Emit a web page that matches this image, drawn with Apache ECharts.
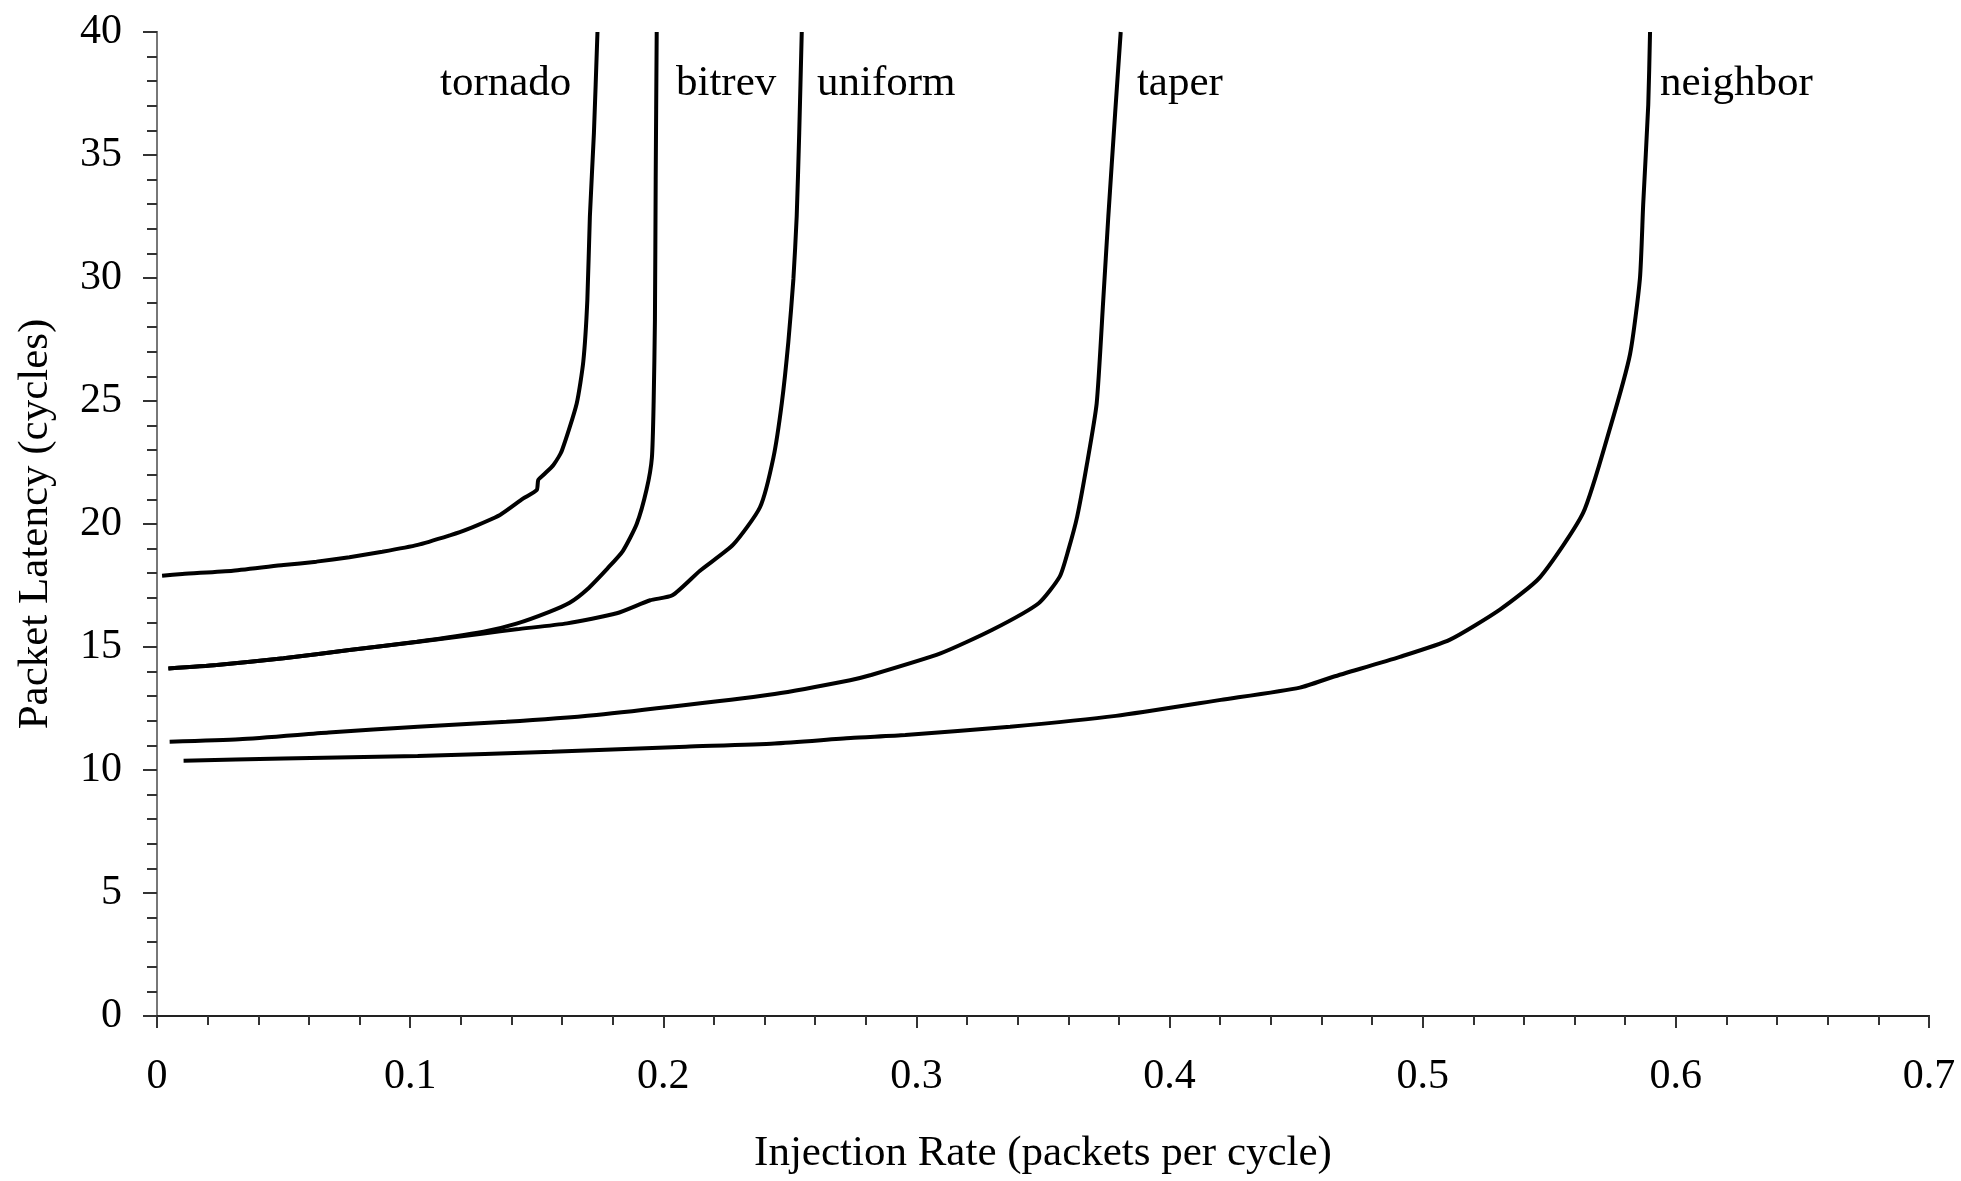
<!DOCTYPE html>
<html>
<head>
<meta charset="utf-8">
<title>Packet Latency vs Injection Rate</title>
<script src="https://cdn.jsdelivr.net/npm/echarts@6/dist/echarts.min.js"></script>
<style>
  html,
  body {
    margin: 0;
    padding: 0;
    background: #fff;
  }
  #main {
    width: 1961px;
    height: 1181px;
  }
</style>
</head>
<body>
<div id="main"></div>
<script>
// 曲线数据 [injection rate, latency]
var tornado = [
  [0.002, 17.9], [0.010, 17.97], [0.030, 18.1], [0.050, 18.33], [0.063, 18.47],
  [0.076, 18.65], [0.089, 18.87], [0.103, 19.15], [0.116, 19.55], [0.122, 19.76],
  [0.1355, 20.37], [0.1447, 21.04], [0.150, 21.38], [0.1506, 21.79], [0.1526, 21.99],
  [0.1566, 22.4], [0.160, 23.0], [0.1658, 24.9], [0.1684, 26.6], [0.170, 29.1],
  [0.171, 32.5], [0.1726, 35.9], [0.174, 40]
];
var bitrev = [
  [0.0045, 14.13], [0.0236, 14.27], [0.050, 14.54], [0.076, 14.88], [0.1026, 15.21],
  [0.129, 15.62], [0.142, 15.95], [0.155, 16.43], [0.163, 16.8], [0.170, 17.35],
  [0.178, 18.2], [0.184, 18.9], [0.1895, 20.0], [0.1934, 21.4], [0.1955, 22.7],
  [0.1962, 25], [0.1967, 28.3], [0.197, 34], [0.1974, 40]
];
var uniform = [
  [0.0045, 14.13], [0.0236, 14.27], [0.050, 14.54], [0.076, 14.88], [0.1026, 15.2],
  [0.129, 15.55], [0.142, 15.72], [0.162, 15.96], [0.1816, 16.37], [0.1948, 16.9],
  [0.2036, 17.1], [0.2145, 18.1], [0.2277, 19.17], [0.2382, 20.68], [0.2435, 22.7],
  [0.2468, 24.9], [0.2494, 27.4], [0.2514, 29.96], [0.2527, 32.5], [0.2537, 35.9],
  [0.2547, 40]
];
var taper = [
  [0.005, 11.15], [0.0325, 11.25], [0.0678, 11.52], [0.103, 11.76], [0.138, 11.96],
  [0.1736, 12.24], [0.2089, 12.64], [0.244, 13.09], [0.2738, 13.65], [0.2817, 13.85],
  [0.3095, 14.74], [0.330, 15.7], [0.3483, 16.78], [0.3566, 17.86], [0.360, 18.94],
  [0.3635, 20.3], [0.3673, 22.4], [0.3712, 24.9], [0.3738, 29.1], [0.3758, 32.5],
  [0.3785, 36.7], [0.3807, 40]
];
var neighbor = [
  [0.0105, 10.38], [0.050, 10.47], [0.103, 10.57], [0.156, 10.74], [0.2089, 10.95],
  [0.244, 11.08], [0.274, 11.3], [0.2956, 11.42], [0.337, 11.76], [0.3788, 12.2],
  [0.4203, 12.85], [0.4515, 13.35], [0.4647, 13.79], [0.491, 14.6], [0.5108, 15.3],
  [0.5305, 16.52], [0.5463, 17.83], [0.5634, 20.46], [0.574, 23.9], [0.5819, 26.9],
  [0.5858, 29.97], [0.5871, 33.0], [0.5891, 37.05], [0.5898, 40]
];

var seriesNames = ["tornado", "bitrev", "uniform", "taper", "neighbor"];
// 曲线名称标注的位置 (数据坐标, 文字左端)
var labelAnchors = [
  [0.1118, 37.9], [0.205, 37.9], [0.2607, 37.9], [0.3871, 37.9], [0.5937, 37.9]
];

var xTicks = ["0", "0.1", "0.2", "0.3", "0.4", "0.5", "0.6", "0.7"];
var yTicks = ["0", "5", "10", "15", "20", "25", "30", "35", "40"];

var FONT = "Liberation Serif";
var INK = "#000";

var chart = echarts.init(document.getElementById("main"));

function curve(name, data) {
  return {
    name: name,
    type: "line",
    data: data,
    symbol: "none",
    smooth: 0.2,
    lineStyle: { color: "#000", width: 4 },
    z: 3,
  };
}

var option = {
  backgroundColor: "#fff",
  animation: false,
  grid: { left: 157, right: 32, top: 32, bottom: 165 },
  xAxis: [
    {
      type: "value",
      min: 0,
      max: 0.7,
      interval: 0.1,
      name: "Injection Rate (packets per cycle)",
      nameLocation: "middle",
      nameGap: 116,
      nameTextStyle: { fontFamily: FONT, fontSize: 43, color: INK },
      axisLine: { show: true, lineStyle: { color: "#222", width: 2 } },
      axisTick: { show: true, inside: false, length: 12, lineStyle: { color: "#333", width: 2 } },
      minorTick: { show: true, splitNumber: 5, length: 9, lineStyle: { color: "#333", width: 2 } },
      splitLine: { show: false },
      axisLabel: {
        fontFamily: FONT,
        fontSize: 42,
        color: INK,
        margin: 40,
        formatter: function (v) {
          return xTicks[Math.round(v * 10)];
        },
      },
    },
    {
      // 上边框
      type: "value",
      position: "top",
      min: 0,
      max: 0.7,
      axisLine: { show: true, lineStyle: { color: "#222", width: 2 } },
      axisTick: { show: false },
      axisLabel: { show: false },
      splitLine: { show: false },
    },
  ],
  yAxis: [
    {
      type: "value",
      min: 0,
      max: 40,
      interval: 5,
      name: "Packet Latency (cycles)",
      nameLocation: "middle",
      nameGap: 100,
      nameTextStyle: { fontFamily: FONT, fontSize: 43, color: INK },
      axisLine: { show: true, lineStyle: { color: "#222", width: 2 } },
      axisTick: { show: true, inside: false, length: 14, lineStyle: { color: "#333", width: 2 } },
      minorTick: { show: true, splitNumber: 5, length: 10, lineStyle: { color: "#333", width: 2 } },
      splitLine: { show: false },
      axisLabel: {
        fontFamily: FONT,
        fontSize: 42,
        color: INK,
        margin: 35,
        formatter: function (v) {
          return yTicks[Math.round(v / 5)];
        },
      },
    },
    {
      // 右边框
      type: "value",
      position: "right",
      min: 0,
      max: 40,
      axisLine: { show: true, lineStyle: { color: "#777", width: 2 } },
      axisTick: { show: false },
      axisLabel: { show: false },
      splitLine: { show: false },
    },
  ],
  series: [
    curve(seriesNames[0], tornado),
    curve(seriesNames[1], bitrev),
    curve(seriesNames[2], uniform),
    curve(seriesNames[3], taper),
    curve(seriesNames[4], neighbor),
    {
      name: "labels",
      type: "scatter",
      symbolSize: 0,
      itemStyle: { color: "#000" },
      data: labelAnchors.map(function (p, i) {
        return { value: p, name: seriesNames[i] };
      }),
      label: {
        show: true,
        position: "right",
        distance: 0,
        fontFamily: FONT,
        fontSize: 43,
        color: "#000",
        opacity: 1,
        textBorderWidth: 0,
        formatter: function (p) {
          return p.name;
        },
      },
      silent: true,
      z: 4,
    },
  ],
};

option && chart.setOption(option);
</script>
</body>
</html>
